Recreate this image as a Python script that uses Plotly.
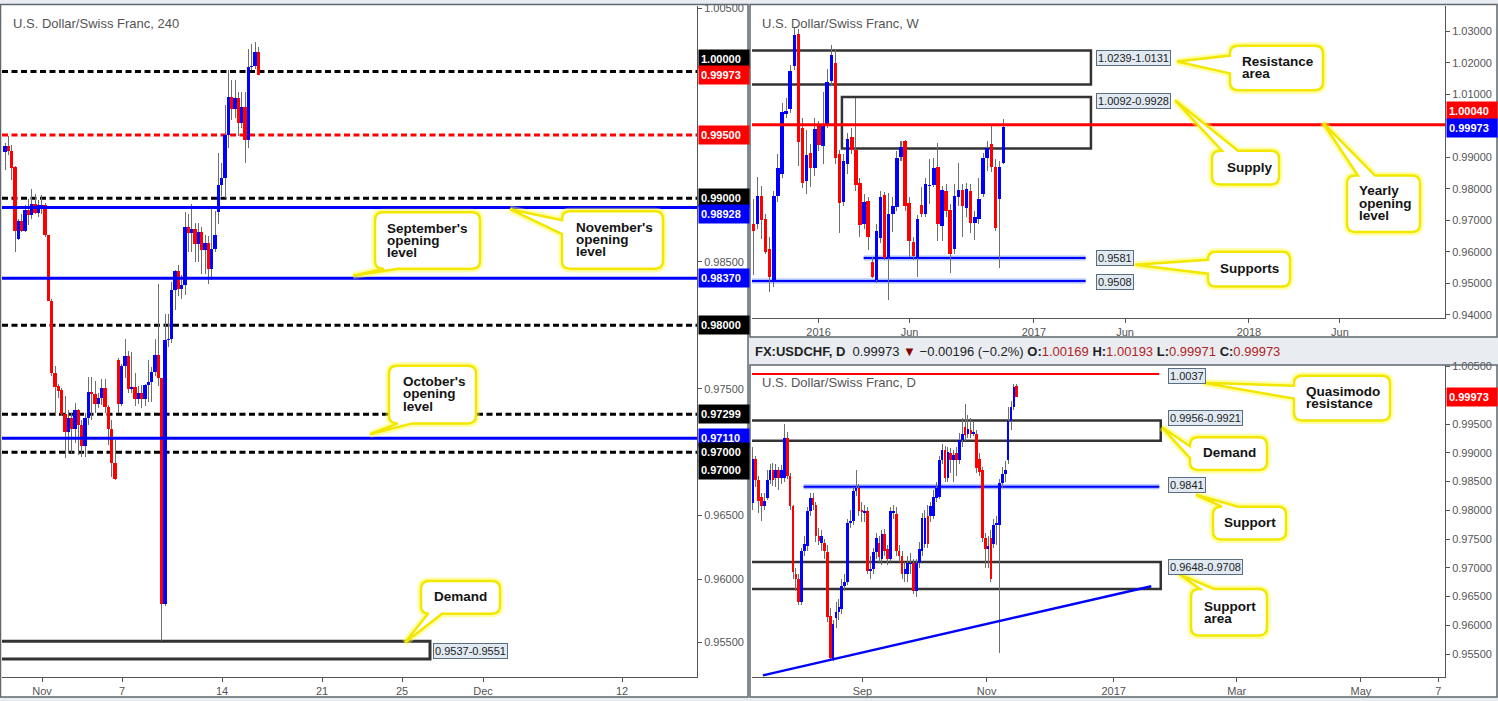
import plotly.graph_objects as go

W, H = 1498, 701
FONT = "Liberation Sans, Arial, sans-serif"

# ---------------- 4H data (U.S. Dollar/Swiss Franc, 240) ----------------
h4_open = [0.99367, 0.99414, 0.99375, 0.99250, 0.98680, 0.98820, 0.98742, 0.98906, 0.98867, 0.98953,
           0.98883, 0.98914, 0.98945, 0.98711, 0.98195, 0.97625, 0.97523, 0.97492, 0.97297, 0.97156,
           0.97273, 0.97180, 0.97336, 0.97211, 0.97047, 0.97273, 0.97477, 0.97461, 0.97383, 0.97430,
           0.97508, 0.97359, 0.97180, 0.96914, 0.97727, 0.97383, 0.97680, 0.97758, 0.97500, 0.97516,
           0.97422, 0.97469, 0.97422, 0.97531, 0.97555, 0.97633, 0.97766, 0.97586, 0.95805, 0.97883,
           0.97891, 0.98281, 0.98430, 0.98289, 0.98320, 0.98773, 0.98727, 0.98758, 0.98641, 0.98734,
           0.98594, 0.98648, 0.98445, 0.98600, 0.98891, 0.99109, 0.99164, 0.99500, 0.99797, 0.99703,
           0.99789, 0.99594, 0.99719, 0.99461, 1.00039, 1.00047, 1.00156]
h4_high = [0.99438, 0.99492, 0.99422, 0.99258, 0.98836, 0.98875, 0.98945, 0.98992, 0.99070, 0.99031,
           0.98984, 0.99023, 0.98961, 0.98711, 0.98211, 0.97680, 0.97539, 0.97508, 0.97445, 0.97336,
           0.97305, 0.97391, 0.97344, 0.97250, 0.97305, 0.97594, 0.97594, 0.97563, 0.97469, 0.97578,
           0.97578, 0.97375, 0.97250, 0.97094, 0.97742, 0.97695, 0.97891, 0.97797, 0.97789, 0.97625,
           0.97523, 0.97531, 0.97539, 0.97727, 0.97672, 0.97891, 0.98328, 0.97586, 0.98086, 0.98086,
           0.98344, 0.98438, 0.98477, 0.98398, 0.98891, 0.98875, 0.98953, 0.98805, 0.98805, 0.98773,
           0.98711, 0.98703, 0.98922, 0.98898, 0.99359, 0.99281, 0.99734, 1.00008, 0.99930, 0.99930,
           0.99836, 0.99836, 0.99836, 1.00180, 1.00219, 1.00234, 1.00195]
h4_low = [0.99227, 0.99344, 0.99148, 0.98578, 0.98672, 0.98734, 0.98734, 0.98789, 0.98836, 0.98875,
          0.98852, 0.98875, 0.98695, 0.98188, 0.97602, 0.97289, 0.97430, 0.97289, 0.96953, 0.96992,
          0.96992, 0.97070, 0.96977, 0.96961, 0.96961, 0.97211, 0.97250, 0.97305, 0.97352, 0.97375,
          0.97305, 0.97055, 0.96805, 0.96781, 0.97305, 0.97367, 0.97586, 0.97469, 0.97469, 0.97367,
          0.97383, 0.97352, 0.97367, 0.97398, 0.97398, 0.97602, 0.97523, 0.95516, 0.95789, 0.97828,
          0.97859, 0.98117, 0.98227, 0.98211, 0.98242, 0.98578, 0.98578, 0.98500, 0.98500, 0.98406,
          0.98406, 0.98328, 0.98359, 0.98578, 0.98797, 0.99016, 0.99000, 0.99398, 0.99617, 0.99633,
          0.99492, 0.99555, 0.99281, 0.99398, 1.00008, 1.00016, 0.99971]
h4_close = [0.99414, 0.99375, 0.99242, 0.98742, 0.98820, 0.98742, 0.98906, 0.98867, 0.98953, 0.98883,
            0.98945, 0.98945, 0.98711, 0.98195, 0.97625, 0.97516, 0.97484, 0.97297, 0.97156, 0.97273,
            0.97180, 0.97336, 0.97211, 0.97047, 0.97273, 0.97477, 0.97461, 0.97383, 0.97430, 0.97508,
            0.97359, 0.97180, 0.96914, 0.96789, 0.97383, 0.97680, 0.97758, 0.97500, 0.97516, 0.97422,
            0.97469, 0.97422, 0.97531, 0.97555, 0.97633, 0.97766, 0.97586, 0.95805, 0.97883, 0.97891,
            0.98281, 0.98430, 0.98289, 0.98320, 0.98773, 0.98727, 0.98758, 0.98641, 0.98734, 0.98594,
            0.98648, 0.98445, 0.98600, 0.98711, 0.99109, 0.99164, 0.99500, 0.99797, 0.99703, 0.99789,
            0.99594, 0.99719, 0.99461, 1.00039, 1.00047, 1.00156, 0.99973]
h4_tick_pos = [11.1, 35.1, 65.1, 95.1, 119.1, 143.4, 185.1]
h4_tick_text = ["Nov", "7", "14", "21", "25", "Dec", "12"]
h4_price_ticks = [1.005, 0.985, 0.975, 0.965, 0.96, 0.955]
h4_black_levels = [1.0, 0.99, 0.98, 0.97299, 0.97]
h4_red_levels = [0.995]
h4_blue_levels = [0.98928, 0.9837, 0.9711]
h4_demand = [0.9537, 0.9551]
h4_demand_end = 127.5

# ---------------- Weekly data ----------------
wk_open = [0.9689, 0.9689, 0.9776, 0.9703, 0.9608, 0.9504, 0.9779, 0.9847, 1.0038, 1.0054,
           1.0190, 1.0292, 0.9994, 0.9826, 0.9915, 0.9865, 0.9999, 0.9936, 1.0002, 1.0143,
           1.0201, 0.9912, 0.9758, 0.9880, 0.9964, 0.9922, 0.9820, 0.9689, 0.9761, 0.9569,
           0.9511, 0.9645, 0.9782, 0.9582, 0.9719, 0.9742, 0.9902, 0.9952, 0.9754, 0.9630,
           0.9582, 0.9750, 0.9721, 0.9810, 0.9813, 0.9868, 0.9682, 0.9794, 0.9733, 0.9608,
           0.9773, 0.9797, 0.9740, 0.9794, 0.9692, 0.9705, 0.9784, 0.9897, 0.9943, 0.9868,
           0.9768, 0.9883]
wk_high = [0.9768, 0.9838, 0.9810, 0.9721, 0.9647, 0.9794, 0.9910, 1.0072, 1.0088, 1.0193,
           1.0313, 1.0308, 1.0025, 0.9988, 0.9941, 1.0025, 1.0014, 1.0109, 1.0182, 1.0256,
           1.0245, 0.9925, 0.9910, 0.9978, 0.9994, 1.0090, 0.9836, 0.9784, 0.9773, 0.9584,
           0.9689, 0.9794, 0.9789, 0.9786, 0.9773, 0.9920, 0.9952, 0.9954, 0.9773, 0.9647,
           0.9716, 0.9805, 0.9836, 0.9894, 0.9899, 0.9946, 0.9810, 0.9815, 0.9752, 0.9815,
           0.9883, 0.9815, 0.9820, 0.9815, 0.9731, 0.9834, 0.9915, 0.9952, 1.0006, 0.9894,
           0.9889, 1.0023]
wk_low = [0.9527, 0.9674, 0.9642, 0.9593, 0.9474, 0.9490, 0.9758, 0.9836, 1.0025, 1.0041,
          1.0177, 0.9873, 0.9803, 0.9784, 0.9805, 0.9842, 0.9920, 0.9878, 0.9994, 1.0130,
          0.9878, 0.9660, 0.9747, 0.9847, 0.9910, 0.9794, 0.9647, 0.9674, 0.9605, 0.9517,
          0.9500, 0.9627, 0.9574, 0.9446, 0.9663, 0.9731, 0.9889, 0.9731, 0.9584, 0.9574,
          0.9519, 0.9710, 0.9710, 0.9752, 0.9805, 0.9635, 0.9635, 0.9710, 0.9534, 0.9595,
          0.9747, 0.9647, 0.9710, 0.9660, 0.9639, 0.9689, 0.9773, 0.9858, 0.9855, 0.9668,
          0.9548, 0.9878]
wk_close = [0.9668, 0.9779, 0.9702, 0.9600, 0.9522, 0.9776, 0.9865, 1.0044, 1.0046, 1.0174,
            1.0287, 0.9949, 0.9820, 0.9908, 0.9865, 0.9990, 0.9938, 1.0004, 1.0140, 1.0224,
            0.9899, 0.9755, 0.9889, 0.9960, 0.9925, 0.9812, 0.9687, 0.9758, 0.9647, 0.9522,
            0.9666, 0.9773, 0.9582, 0.9719, 0.9747, 0.9897, 0.9934, 0.9747, 0.9635, 0.9588,
            0.9705, 0.9721, 0.9817, 0.9813, 0.9865, 0.9689, 0.9796, 0.9731, 0.9593, 0.9776,
            0.9797, 0.9747, 0.9800, 0.9692, 0.9710, 0.9768, 0.9899, 0.9931, 0.9868, 0.9677,
            0.9868, 0.99973]
wk_tick_pos = [15.9, 38.1, 68.4, 90.6, 120.8, 143.0]
wk_tick_text = ["2016", "Jun", "2017", "Jun", "2018", "Jun"]
wk_price_ticks = [1.03, 1.02, 1.01, 0.99, 0.98, 0.97, 0.96, 0.95, 0.94]
wk_resistance = [1.0131, 1.0239]
wk_supply = [0.9928, 1.0092]
wk_supports = [0.9581, 0.9508]
wk_yearly_open = 1.0004

# ---------------- Daily data ----------------
d1_open = [0.9813, 0.9890, 0.9853, 0.9824, 0.9807, 0.9821, 0.9853, 0.9870, 0.9856, 0.9870,
           0.9856, 0.9856, 0.9925, 0.9859, 0.9807, 0.9689, 0.9681, 0.9640, 0.9729, 0.9738,
           0.9798, 0.9821, 0.9810, 0.9755, 0.9744, 0.9744, 0.9727, 0.9617, 0.9540, 0.9612,
           0.9623, 0.9629, 0.9669, 0.9675, 0.9778, 0.9781, 0.9833, 0.9839, 0.9801, 0.9796,
           0.9798, 0.9695, 0.9698, 0.9727, 0.9744, 0.9715, 0.9758, 0.9732, 0.9715, 0.9796,
           0.9793, 0.9729, 0.9721, 0.9689, 0.9689, 0.9706, 0.9709, 0.9660, 0.9709, 0.9729,
           0.9741, 0.9790, 0.9790, 0.9790, 0.9821, 0.9824, 0.9887, 0.9905, 0.9856, 0.9899,
           0.9887, 0.9899, 0.9887, 0.9922, 0.9945, 0.9933, 0.9940, 0.9933, 0.9933, 0.9890,
           0.9870, 0.9752, 0.9732, 0.9752, 0.9741, 0.9775, 0.9775, 0.9847, 0.9864, 0.9887,
           0.9956, 0.9979, 1.00169]
d1_high = [0.9910, 0.9895, 0.9860, 0.9830, 0.9830, 0.9870, 0.9880, 0.9882, 0.9880, 0.9876,
           0.9878, 0.9950, 0.9937, 0.9865, 0.9810, 0.9700, 0.9690, 0.9735, 0.9755, 0.9805,
           0.9830, 0.9830, 0.9815, 0.9770, 0.9765, 0.9750, 0.9740, 0.9630, 0.9610, 0.9640,
           0.9645, 0.9680, 0.9690, 0.9785, 0.9800, 0.9840, 0.9870, 0.9845, 0.9815, 0.9810,
           0.9805, 0.9720, 0.9735, 0.9760, 0.9755, 0.9765, 0.9768, 0.9740, 0.9805, 0.9810,
           0.9805, 0.9740, 0.9730, 0.9710, 0.9720, 0.9725, 0.9715, 0.9715, 0.9745, 0.9795,
           0.9800, 0.9810, 0.9815, 0.9835, 0.9850, 0.9895, 0.9915, 0.9912, 0.9910, 0.9908,
           0.9905, 0.9910, 0.9935, 0.9960, 0.9985, 0.9965, 0.9960, 0.9955, 0.9940, 0.9900,
           0.9875, 0.9760, 0.9755, 0.9765, 0.9785, 0.9790, 0.9855, 0.9875, 0.9885, 0.9980,
           0.9990, 1.0020, 1.00193]
d1_low = [0.9800, 0.9840, 0.9795, 0.9782, 0.9800, 0.9818, 0.9845, 0.9843, 0.9840, 0.9835,
          0.9845, 0.9850, 0.9855, 0.9800, 0.9680, 0.9660, 0.9635, 0.9635, 0.9720, 0.9730,
          0.9790, 0.9800, 0.9745, 0.9740, 0.9730, 0.9715, 0.9605, 0.9540, 0.9538, 0.9595,
          0.9610, 0.9620, 0.9660, 0.9670, 0.9770, 0.9775, 0.9825, 0.9790, 0.9780, 0.9780,
          0.9690, 0.9680, 0.9690, 0.9715, 0.9710, 0.9705, 0.9720, 0.9705, 0.9710, 0.9785,
          0.9720, 0.9710, 0.9680, 0.9675, 0.9675, 0.9690, 0.9655, 0.9650, 0.9700, 0.9720,
          0.9735, 0.9735, 0.9780, 0.9785, 0.9815, 0.9820, 0.9880, 0.9850, 0.9850, 0.9865,
          0.9850, 0.9860, 0.9880, 0.9910, 0.9920, 0.9925, 0.9925, 0.9930, 0.9865, 0.9860,
          0.9745, 0.9700, 0.9700, 0.9675, 0.9735, 0.9740, 0.9551, 0.9838, 0.9850, 0.9880,
          0.9940, 0.9975, 0.99971]
d1_close = [0.9890, 0.9853, 0.9816, 0.9807, 0.9816, 0.9853, 0.9870, 0.9853, 0.9870, 0.9856,
            0.9870, 0.9925, 0.9859, 0.9807, 0.9692, 0.9681, 0.9640, 0.9729, 0.9741, 0.9798,
            0.9821, 0.9810, 0.9755, 0.9747, 0.9755, 0.9729, 0.9614, 0.9543, 0.9603, 0.9623,
            0.9632, 0.9669, 0.9676, 0.9778, 0.9781, 0.9833, 0.9839, 0.9798, 0.9797, 0.9798,
            0.9695, 0.9698, 0.9727, 0.9752, 0.9718, 0.9758, 0.9729, 0.9715, 0.9798, 0.9798,
            0.9729, 0.9721, 0.9689, 0.9698, 0.9709, 0.9709, 0.9660, 0.9709, 0.9732, 0.9787,
            0.9787, 0.9741, 0.9807, 0.9824, 0.9839, 0.9887, 0.9905, 0.9856, 0.9902, 0.9887,
            0.9896, 0.9887, 0.9922, 0.9933, 0.9931, 0.9942, 0.9933, 0.9936, 0.9873, 0.9867,
            0.9752, 0.9732, 0.9738, 0.9681, 0.9775, 0.9778, 0.9847, 0.9864, 0.9870, 0.9956,
            0.9979, 1.0014, 0.99973]
d1_tick_pos = [38.2, 81.5, 125.8, 168.7, 212.0, 239.0]
d1_tick_text = ["Sep", "Nov", "2017", "Mar", "May", "7"]
d1_price_ticks = [1.005, 0.995, 0.99, 0.985, 0.98, 0.975, 0.97, 0.965, 0.96, 0.955]
d1_qm_resistance = 1.0037
d1_demand = [0.9921, 0.9956]
d1_support = 0.9841
d1_support_area = [0.9663, 0.9710]
d1_trend_x = [3.5, 138.9]
d1_trend_y = [0.9513, 0.9668]
d1_change = "−0.00196 (−0.2%)"

UP, DOWN, WICK = "#0000ff", "#ff0000", "#6e6e6e"


def px(x):
    return x / W


def py(y):
    return 1 - y / H


fig = go.Figure()


def add_candles(o, h, l, c, xa, ya, width, wick_w, minh):
    idx = list(range(len(o)))
    # wicks as thin bars (drawn first so that bodies sit on top)
    fig.add_trace(go.Bar(x=idx, y=[b - a for a, b in zip(l, h)], base=l, width=wick_w,
                         marker=dict(color=WICK, line=dict(width=0)),
                         xaxis=xa, yaxis=ya, hoverinfo="skip", showlegend=False))
    base = [min(a, b) for a, b in zip(o, c)]
    ht = [max(abs(b - a), minh) for a, b in zip(o, c)]
    col = [UP if b >= a else DOWN for a, b in zip(o, c)]
    fig.add_trace(go.Bar(x=idx, y=ht, base=base, width=width,
                         marker=dict(color=col, line=dict(width=0)),
                         xaxis=xa, yaxis=ya, hoverinfo="skip", showlegend=False))


add_candles(h4_open, h4_high, h4_low, h4_close, "x", "y", 0.95, 0.3, 0.00008)
add_candles(wk_open, wk_high, wk_low, wk_close, "x2", "y2", 0.85, 0.25, 0.0002)
add_candles(d1_open, d1_high, d1_low, d1_close, "x3", "y3", 0.92, 0.35, 0.00012)

shapes = []
# panel backgrounds & borders
for (x0, y0, x1, y1) in [(0.5, 0.5, 748, 699), (750, 0.5, 1497, 336), (750, 364, 1497, 699)]:
    shapes.append(dict(type="rect", xref="paper", yref="paper", x0=px(x0), x1=px(x1), y0=py(y1), y1=py(y0),
                       fillcolor="white", line=dict(width=0), layer="below"))
    shapes.append(dict(type="rect", xref="paper", yref="paper", x0=px(x0), x1=px(x1), y0=py(y1), y1=py(y0),
                       fillcolor="rgba(0,0,0,0)", line=dict(color="#5f6870", width=1.5), layer="above"))

# ---- 4H levels ----
for lv in h4_black_levels:
    shapes.append(dict(type="line", xref="x domain", yref="y", x0=0, x1=1, y0=lv, y1=lv,
                       line=dict(color="black", width=3, dash="6px,3.5px"), layer="below"))
for lv in h4_red_levels:
    shapes.append(dict(type="line", xref="x domain", yref="y", x0=0, x1=1, y0=lv, y1=lv,
                       line=dict(color="#ff0000", width=3, dash="6px,3.5px"), layer="below"))
for lv in h4_blue_levels:
    shapes.append(dict(type="line", xref="x domain", yref="y", x0=0, x1=1, y0=lv, y1=lv,
                       line=dict(color="#0000ff", width=3), layer="above"))
shapes.append(dict(type="rect", xref="x", yref="y", x0=-3, x1=h4_demand_end, y0=h4_demand[0], y1=h4_demand[1],
                   line=dict(color="#333333", width=3), fillcolor="rgba(255,255,255,0)", layer="below"))

# ---- Weekly levels ----
shapes.append(dict(type="rect", xref="x2", yref="y2", x0=-2, x1=82.3, y0=wk_resistance[0], y1=wk_resistance[1],
                   line=dict(color="#333333", width=2.5), fillcolor="rgba(255,255,255,0)", layer="below"))
shapes.append(dict(type="rect", xref="x2", yref="y2", x0=21.6, x1=82.3, y0=wk_supply[0], y1=wk_supply[1],
                   line=dict(color="#333333", width=2.5), fillcolor="rgba(255,255,255,0)", layer="below"))
for lv, x0 in zip(wk_supports, [26.9, -2]):
    shapes.append(dict(type="line", xref="x2", yref="y2", x0=x0, x1=81.0, y0=lv, y1=lv,
                       line=dict(color="#aabfff", width=5), layer="below"))
    shapes.append(dict(type="line", xref="x2", yref="y2", x0=x0, x1=81.0, y0=lv, y1=lv,
                       line=dict(color="#0000ff", width=2), layer="below"))
shapes.append(dict(type="line", xref="x2 domain", yref="y2", x0=0, x1=1, y0=wk_yearly_open, y1=wk_yearly_open,
                   line=dict(color="#ff0000", width=3), layer="above"))

# ---- Daily levels ----
shapes.append(dict(type="line", xref="x3", yref="y3", x0=-2, x1=141.7, y0=d1_qm_resistance, y1=d1_qm_resistance,
                   line=dict(color="#ff0000", width=2), layer="below"))
shapes.append(dict(type="rect", xref="x3", yref="y3", x0=-2, x1=142.2, y0=d1_demand[0], y1=d1_demand[1],
                   line=dict(color="#333333", width=2.5), fillcolor="rgba(255,255,255,0)", layer="below"))
shapes.append(dict(type="rect", xref="x3", yref="y3", x0=-2, x1=142.2, y0=d1_support_area[0], y1=d1_support_area[1],
                   line=dict(color="#333333", width=2.5), fillcolor="rgba(255,255,255,0)", layer="below"))
shapes.append(dict(type="line", xref="x3", yref="y3", x0=17.7, x1=141.7, y0=d1_support, y1=d1_support,
                   line=dict(color="#aabfff", width=5), layer="below"))
shapes.append(dict(type="line", xref="x3", yref="y3", x0=17.7, x1=141.7, y0=d1_support, y1=d1_support,
                   line=dict(color="#0000ff", width=2), layer="below"))
shapes.append(dict(type="line", xref="x3", yref="y3", x0=d1_trend_x[0], x1=d1_trend_x[1],
                   y0=d1_trend_y[0], y1=d1_trend_y[1], line=dict(color="#0000ff", width=2.5), layer="above"))


# ---- Callouts ----
def callout_path(x0, y0, x1, y1, side, a, b, tip, r=8):
    def P(x, y):
        return f"{x / W:.5f},{1 - y / H:.5f}"
    s = f"M{P(x0 + r, y0)}"
    if side == "top":
        s += f" L{P(a, y0)} L{P(*tip)} L{P(b, y0)}"
    s += f" L{P(x1 - r, y0)} Q{P(x1, y0)} {P(x1, y0 + r)}"
    if side == "right":
        s += f" L{P(x1, a)} L{P(*tip)} L{P(x1, b)}"
    s += f" L{P(x1, y1 - r)} Q{P(x1, y1)} {P(x1 - r, y1)}"
    if side == "bottom":
        s += f" L{P(b, y1)} L{P(*tip)} L{P(a, y1)}"
    s += f" L{P(x0 + r, y1)} Q{P(x0, y1)} {P(x0, y1 - r)}"
    if side == "left":
        s += f" L{P(x0, b)} L{P(*tip)} L{P(x0, a)}"
    s += f" L{P(x0, y0 + r)} Q{P(x0, y0)} {P(x0 + r, y0)} Z"
    return s


callouts = [
    ((375, 210, 480, 267), "bottom", 384, 398, (353, 274), ["September's", "opening", "level"], 384.6, 226.0),
    ((562, 209, 663, 267), "left", 218, 232, (510, 207), ["November's", "opening", "level"], 573.6, 225.5),
    ((389, 365, 476, 423), "bottom", 398, 412, (370, 434), ["October's", "opening", "level"], 401.4, 381.0),
    ((421, 582, 500, 615), "bottom", 428, 442, (405, 644), ["Demand"], 431.7, 597.7),
    ((1230, 42, 1323, 87), "left", 52, 70, (1177, 58), ["Resistance", "area"], 1240, 58.0),
    ((1212, 148, 1279, 182), "top", 1222, 1238, (1175, 97), ["Supply"], 1224.8, 165),
    ((1347, 173, 1420, 230), "top", 1358, 1375, (1323, 120), ["Yearly", "opening", "level"], 1356.7, 188.5),
    ((1208, 250, 1290, 285), "left", 258, 272, (1135, 263), ["Supports"], 1217.6, 266.7),
    ((1294, 375, 1390, 420), "left", 385, 398, (1203, 382), ["Quasimodo", "resistance"], 1304, 391),
    ((1190, 437, 1267, 470), "left", 446, 458, (1162, 427), ["Demand"], 1200.8, 452.3),
    ((1213, 507, 1286, 540), "top", 1222, 1238, (1196, 495), ["Support"], 1222.4, 522.7),
    ((1191, 590, 1267, 637), "top", 1200, 1214, (1179, 575), ["Support", "area"], 1202, 607.3),
]

annotations = []
for (box, side, a, b, tip, lines, tx, ty) in callouts:
    path = callout_path(*box, side, a, b, tip)
    shapes.append(dict(type="path", path=path, xref="paper", yref="paper", fillcolor="white",
                       line=dict(color="rgba(255,255,60,0.45)", width=7), layer="above"))
    shapes.append(dict(type="path", path=path, xref="paper", yref="paper", fillcolor="white",
                       line=dict(color="#f3e600", width=2.5), layer="above"))
    for k, t in enumerate(lines):
        annotations.append(dict(xref="paper", yref="paper", x=px(tx), y=py(ty + 12.3 * k), xanchor="left",
                                yanchor="middle", text=f"<b>{t}</b>", showarrow=False,
                                font=dict(family=FONT, size=13.5, color="#141414")))


# ---- small level labels ----
def level_label(text, xref, x, yref, y):
    annotations.append(dict(xref=xref, x=x, yref=yref, y=y, xanchor="left", yanchor="middle", text=text,
                            showarrow=False, bgcolor="#e1eaf2", bordercolor="#5a6e80", borderwidth=1,
                            borderpad=1, font=dict(family=FONT, size=11, color="#222")))


level_label("0.9537-0.9551", "x", 128.4, "y", sum(h4_demand) / 2 - 0.00005)
level_label("1.0239-1.0131", "x2", 83.6, "y2", 1.0214)
level_label("1.0092-0.9928", "x2", 83.6, "y2", 1.0079)
level_label("0.9581", "x2", 83.6, "y2", wk_supports[0])
level_label("0.9508", "x2", 83.6, "y2", wk_supports[1] - 0.0002)
level_label("1.0037", "x3", 144.6, "y3", d1_qm_resistance - 0.0003)
level_label("0.9956-0.9921", "x3", 144.6, "y3", 0.9960)
level_label("0.9841", "x3", 144.6, "y3", d1_support + 0.0003)
level_label("0.9648-0.9708", "x3", 144.6, "y3", 0.9701)


# ---- coloured price-axis labels ----
def axis_label(text, axis_px, yref, y, color, yshift=0):
    annotations.append(dict(xref="paper", x=px(axis_px + 1), yref=yref, y=y, yshift=yshift,
                            xanchor="left", yanchor="middle", text=f"<b>{text}</b>", showarrow=False,
                            bgcolor=color, width=46, height=14, align="left", borderpad=2,
                            font=dict(family=FONT, size=11, color="white")))


last = h4_close[-1]
axis_label("1.00000", 697, "y", 1.0, "#000000", 12)
axis_label(f"{last:.5f}", 697, "y", last, "#ff0000")
axis_label("0.99500", 697, "y", 0.995, "#ff0000")
axis_label("0.99000", 697, "y", 0.99, "#000000")
axis_label("0.98928", 697, "y", 0.98928, "#0000ff", -6.5)
axis_label("0.98370", 697, "y", 0.9837, "#0000ff")
axis_label("0.98000", 697, "y", 0.98, "#000000")
axis_label("0.97299", 697, "y", 0.97299, "#000000")
axis_label("0.97110", 697, "y", 0.9711, "#0000ff")
axis_label("0.97000", 697, "y", 0.97, "#000000")
axis_label("0.97000", 697, "y", 0.97, "#000000", -18)
axis_label("1.00040", 1445, "y2", wk_yearly_open, "#ff0000", 13.5)
axis_label(f"{wk_close[-1]:.5f}", 1445, "y2", wk_close[-1], "#0000ff", -1.5)
axis_label(f"{d1_close[-1]:.5f}", 1445, "y3", d1_close[-1], "#ff0000")

# ---- titles ----
for t, x, y in [("U.S. Dollar/Swiss Franc, 240", 11, 20), ("U.S. Dollar/Swiss Franc, W", 760, 20),
                ("U.S. Dollar/Swiss Franc, D", 760, 381.7)]:
    annotations.append(dict(xref="paper", yref="paper", x=px(x), y=py(y), xanchor="left", yanchor="middle",
                            text=t, showarrow=False, font=dict(family=FONT, size=13, color="#555555")))

o, hh, ll, c = d1_open[-1], d1_high[-1], d1_low[-1], d1_close[-1]
hdr = (f"<b>FX:USDCHF, D</b>  {c:.5f} <span style='color:#8b0000'>▼</span> {d1_change} "
       f"<b>O:</b><span style='color:#b22222'>{o:.5f}</span> <b>H:</b><span style='color:#b22222'>{hh:.5f}</span> "
       f"<b>L:</b><span style='color:#b22222'>{ll:.5f}</span> <b>C:</b><span style='color:#b22222'>{c:.5f}</span>")
annotations.append(dict(xref="paper", yref="paper", x=px(753), y=py(350), xanchor="left", yanchor="middle",
                        text=hdr, showarrow=False, font=dict(family=FONT, size=13, color="#222222")))

axis_common = dict(showgrid=False, zeroline=False, showline=True, linecolor="#555555", linewidth=1,
                   ticks="outside", ticklen=4, tickcolor="#555555",
                   tickfont=dict(family=FONT, size=11, color="#555555"), fixedrange=True)

fig.update_layout(
    width=W, height=H, autosize=False,
    margin=dict(l=0, r=0, t=0, b=0, pad=0),
    paper_bgcolor="#e9edf1", plot_bgcolor="white",
    showlegend=False, hovermode=False, bargap=0, barmode="overlay",
    xaxis=dict(domain=[px(2), px(697)], range=[-0.9, 207.6], anchor="y", tickmode="array",
               tickvals=h4_tick_pos, ticktext=h4_tick_text, **axis_common),
    yaxis=dict(domain=[py(679), py(2)], range=[0.95227, 1.00516], anchor="x", side="right",
               tickmode="array", tickvals=h4_price_ticks, tickformat=".5f", **axis_common),
    xaxis2=dict(domain=[px(752), px(1445)], range=[-0.32, 168.6], anchor="y2", tickmode="array",
                tickvals=wk_tick_pos, ticktext=wk_tick_text, **axis_common),
    yaxis2=dict(domain=[py(317), py(2)], range=[0.93894, 1.03806], anchor="x2", side="right",
                tickmode="array", tickvals=wk_price_ticks, tickformat=".5f", **axis_common),
    xaxis3=dict(domain=[px(752), px(1445)], range=[-0.3, 241.3], anchor="y3", tickmode="array",
                tickvals=d1_tick_pos, ticktext=d1_tick_text, **axis_common),
    yaxis3=dict(domain=[py(679), py(364)], range=[0.95098, 1.00529], anchor="x3", side="right",
                tickmode="array", tickvals=d1_price_ticks, tickformat=".5f", **axis_common),
    shapes=shapes, annotations=annotations,
)

fig.write_html("out.html", config={"displayModeBar": False, "staticPlot": True},
               post_script="document.body.style.margin='0';document.body.style.overflow='hidden';")
